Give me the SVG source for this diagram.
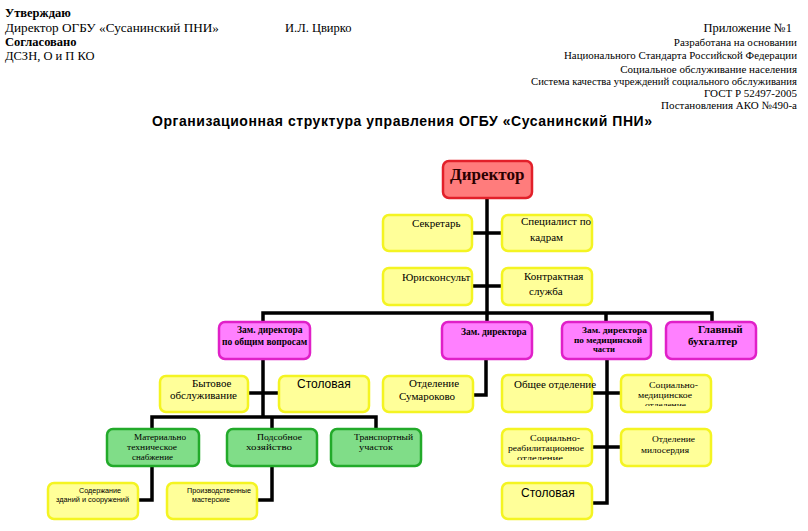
<svg xmlns="http://www.w3.org/2000/svg" width="808" height="531" viewBox="0 0 808 531">
<style>
.hd{font-family:"Liberation Serif","Times New Roman",serif;font-size:12.5px;fill:#000}
.hb{font-weight:bold}
.rt{font-family:"Liberation Serif","Times New Roman",serif;font-size:11px;fill:#000;text-anchor:end}
.title{font-family:"Liberation Sans",Arial,sans-serif;font-size:14px;font-weight:bold;fill:#000}
.y{fill:#ffff99;stroke:#f4f422;stroke-width:2.5}
.m{fill:#ff80ff;stroke:#e020c8;stroke-width:2.5}
.g{fill:#80dd88;stroke:#22aa2a;stroke-width:2.5}
.r{fill:#ff7c7c;stroke:#e2202a;stroke-width:2.5}
.t{font-family:"Liberation Serif","Times New Roman",serif;font-size:11px;fill:#000}
.tb{font-family:"Liberation Serif","Times New Roman",serif;font-size:9.5px;font-weight:bold;fill:#000}
.tbs{font-family:"Liberation Serif","Times New Roman",serif;font-size:8.2px;font-weight:bold;fill:#000}
.ts{font-family:"Liberation Sans",Arial,sans-serif;font-size:12px;fill:#000}
.tss{font-family:"Liberation Sans",Arial,sans-serif;font-size:7px;fill:#000}
.tg{font-family:"Liberation Serif","Times New Roman",serif;font-size:8.6px;fill:#000}
.c{fill:none;stroke:#000;stroke-width:3.5}
</style>
<defs>
<clipPath id="cp1"><rect x="621" y="375" width="90" height="31"/></clipPath>
<clipPath id="cp2"><rect x="502" y="429" width="90" height="31"/></clipPath>
</defs>
<rect width="808" height="531" fill="#fff"/>
<g id="header">
<text class="hd hb" x="5" y="17">Утверждаю</text>
<text class="hd" x="5" y="32" textLength="214" lengthAdjust="spacingAndGlyphs">Директор ОГБУ «Сусанинский ПНИ»</text>
<text class="hd" x="285" y="32">И.Л. Цвирко</text>
<text class="hd hb" x="5" y="46">Согласовано</text>
<text class="hd" x="5" y="60">ДСЗН, О и П КО</text>
<text class="hd" x="792" y="32" text-anchor="end">Приложение №1</text>
<text class="rt" x="797" y="46">Разработана на основании</text>
<text class="rt" x="797" y="59" textLength="233" lengthAdjust="spacingAndGlyphs">Национального Стандарта Российской Федерации</text>
<text class="rt" x="797" y="73">Социальное обслуживание населения</text>
<text class="rt" x="797" y="85" textLength="266" lengthAdjust="spacingAndGlyphs">Система качества учреждений социального обслуживания</text>
<text class="rt" x="797" y="97">ГОСТ Р 52497-2005</text>
<text class="rt" x="797" y="109">Постановления АКО №490-а</text>
<text class="title" x="152" y="126" textLength="500" lengthAdjust="spacing">Организационная структура управления ОГБУ «Сусанинский ПНИ»</text>
</g>
<g id="connectors">
<path class="c" d="M487 198V322"/>
<path class="c" d="M472 233H502M472 286H502"/>
<path class="c" d="M263 322V313H712V322"/>
<path class="c" d="M606 313V322"/>
<path class="c" d="M486 359V395H473"/>
<path class="c" d="M263 359V417"/>
<path class="c" d="M248 393H279"/>
<path class="c" d="M152 429V417H376V429"/>
<path class="c" d="M272 417V429"/>
<path class="c" d="M152 466V500H138"/>
<path class="c" d="M272 466V500H257"/>
<path class="c" d="M607 359V503H592"/>
<path class="c" d="M592 393H621M592 447H621"/>
</g>
<g id="director"><rect class="r" x="443" y="161" width="89" height="37" rx="6"/><text x="450" y="180" font-family="Liberation Serif,serif" font-size="17" font-weight="bold" fill="#2a0000">Директор</text></g>
<g id="secretary"><rect class="y" x="383" y="215" width="89" height="36" rx="6"/><text class="t" x="412" y="227">Секретарь</text></g>
<g id="hr"><rect class="y" x="502" y="215" width="90" height="36" rx="6"/><text class="t" x="521" y="225">Специалист по</text><text class="t" x="530" y="241">кадрам</text></g>
<g id="lawyer"><rect class="y" x="383" y="268" width="89" height="37" rx="6"/><text class="t" x="402" y="281">Юрисконсульт</text></g>
<g id="contract"><rect class="y" x="502" y="268" width="90" height="37" rx="6"/><text class="t" x="524" y="280">Контрактная</text><text class="t" x="529" y="295">служба</text></g>
<g id="deputy-general"><rect class="m" x="219" y="322" width="91" height="37" rx="6"/><text class="tb" x="237" y="333">Зам. директора</text><text class="tb" x="222" y="345">по общим  вопросам</text></g>
<g id="deputy"><rect class="m" x="442" y="322" width="90" height="37" rx="6"/><text class="tb" x="461" y="335">Зам. директора</text></g>
<g id="deputy-medical"><rect class="m" x="562" y="322" width="89" height="37" rx="6"/><text class="tbs" x="582" y="333" textLength="65" lengthAdjust="spacingAndGlyphs">Зам. директора</text><text class="tbs" x="574" y="342.5" textLength="68" lengthAdjust="spacingAndGlyphs">по медицинской</text><text class="tbs" x="593" y="352" textLength="22" lengthAdjust="spacingAndGlyphs">части</text></g>
<g id="accountant"><rect class="m" x="666" y="322" width="90" height="37" rx="6"/><text class="t" font-weight="bold" x="698" y="333">Главный</text><text class="t" font-weight="bold" x="688" y="345">бухгалтер</text></g>
<g id="household"><rect class="y" x="160" y="376" width="88" height="36" rx="6"/><text class="t" x="192" y="387">Бытовое</text><text class="t" x="170" y="399">обслуживание</text></g>
<g id="canteen1"><rect class="y" x="279" y="376" width="90" height="36" rx="6"/><text class="ts" x="297" y="388">Столовая</text></g>
<g id="sumarokovo"><rect class="y" x="383" y="376" width="90" height="36" rx="6"/><text class="t" x="409" y="387">Отделение</text><text class="t" x="399" y="400">Сумароково</text></g>
<g id="general-dept"><rect class="y" x="502" y="375" width="90" height="37" rx="6"/><text class="t" x="514" y="388">Общее отделение</text></g>
<g id="socmed"><rect class="y" x="621" y="375" width="90" height="37" rx="6"/><g clip-path="url(#cp1)"><text class="tg" x="649" y="388" textLength="49" lengthAdjust="spacingAndGlyphs">Социально-</text><text class="tg" x="638" y="398" textLength="54" lengthAdjust="spacingAndGlyphs">медицинское</text><text class="tg" x="645" y="408" textLength="41" lengthAdjust="spacingAndGlyphs">отделение</text></g></g>
<g id="supply"><rect class="g" x="107" y="429" width="92" height="37" rx="6"/><text class="tg" x="134" y="439.5" textLength="52" lengthAdjust="spacingAndGlyphs">Материально</text><text class="tg" x="127" y="449.5" textLength="50" lengthAdjust="spacingAndGlyphs">техническое</text><text class="tg" x="132" y="459.5" textLength="41" lengthAdjust="spacingAndGlyphs">снабжение</text></g>
<g id="farm"><rect class="g" x="227" y="429" width="90" height="37" rx="6"/><text class="tg" x="257" y="439.5" textLength="45" lengthAdjust="spacingAndGlyphs">Подсобное</text><text class="tg" x="246" y="449.5" textLength="46" lengthAdjust="spacingAndGlyphs">хозяйство</text></g>
<g id="transport"><rect class="g" x="331" y="429" width="90" height="37" rx="6"/><text class="tg" x="354" y="439.5" textLength="59" lengthAdjust="spacingAndGlyphs">Транспортный</text><text class="tg" x="359" y="449.5" textLength="34" lengthAdjust="spacingAndGlyphs">участок</text></g>
<g id="rehab"><rect class="y" x="502" y="429" width="90" height="37" rx="6"/><g clip-path="url(#cp2)"><text class="tg" x="530" y="441" textLength="50" lengthAdjust="spacingAndGlyphs">Социально-</text><text class="tg" x="508" y="451" textLength="76" lengthAdjust="spacingAndGlyphs">реабилитационное</text><text class="tg" x="517" y="461" textLength="46" lengthAdjust="spacingAndGlyphs">отделение</text></g></g>
<g id="mercy"><rect class="y" x="621" y="429" width="90" height="37" rx="6"/><text class="tg" x="652" y="442" textLength="43" lengthAdjust="spacingAndGlyphs">Отделение</text><text class="tg" x="641" y="453" textLength="48" lengthAdjust="spacingAndGlyphs">милосердия</text></g>
<g id="buildings"><rect class="y" x="48" y="483" width="90" height="36" rx="6"/><text class="tss" x="79" y="493" textLength="42" lengthAdjust="spacingAndGlyphs">Содержание</text><text class="tss" x="56" y="501.5" textLength="73" lengthAdjust="spacingAndGlyphs">зданий и  сооружений</text></g>
<g id="workshops"><rect class="y" x="167" y="483" width="90" height="36" rx="6"/><text class="tss" x="187" y="493" textLength="64" lengthAdjust="spacingAndGlyphs">Производственные</text><text class="tss" x="192" y="501.5" textLength="38" lengthAdjust="spacingAndGlyphs">мастерские</text></g>
<g id="canteen2"><rect class="y" x="502" y="483" width="90" height="36" rx="6"/><text class="ts" x="521" y="497">Столовая</text></g>
</svg>
